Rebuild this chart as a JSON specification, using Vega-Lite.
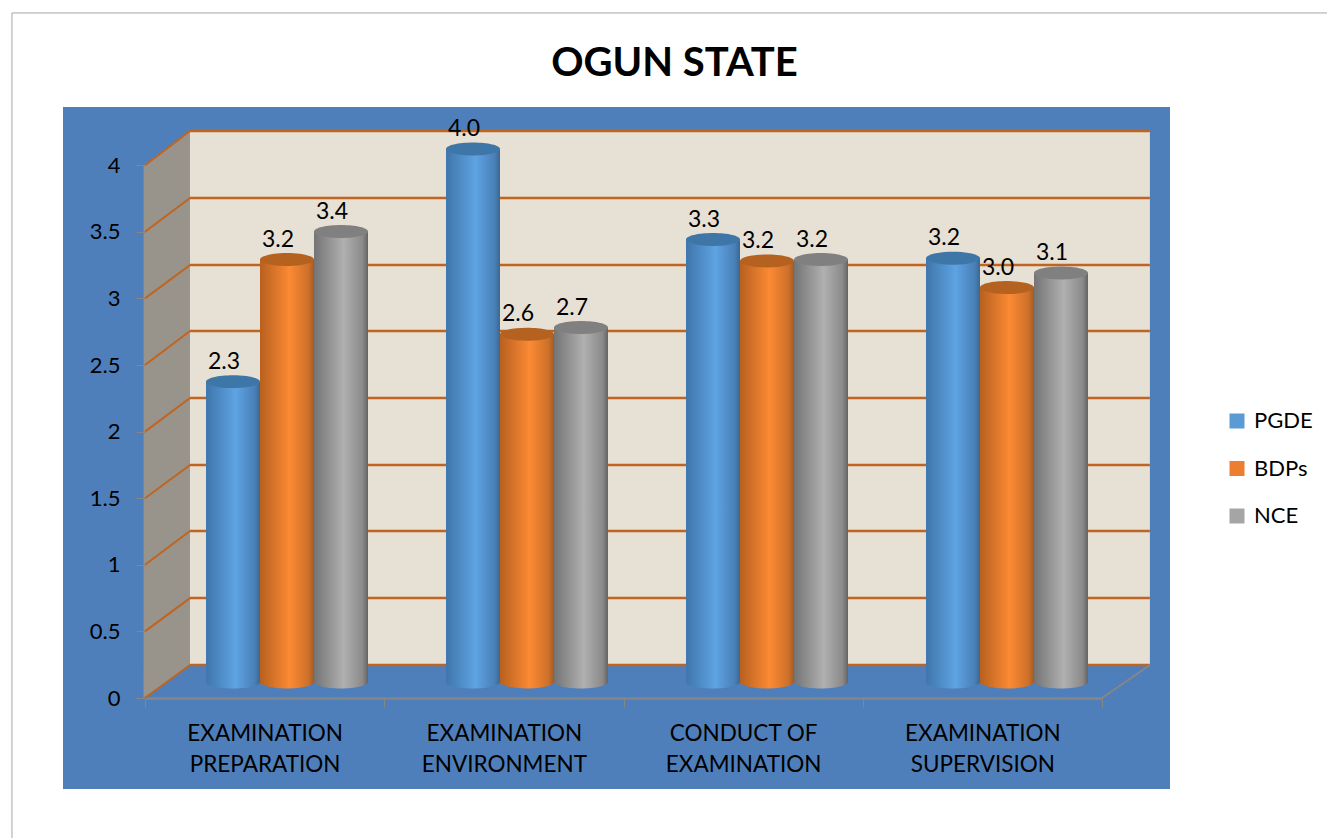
{
"$schema":"https://vega.github.io/schema/vega-lite/v6.json",
"width":1107,"height":682,
"padding":{"left":63,"top":107,"right":157,"bottom":49},
"autosize":{"type":"none"},
"background":"white",
"title":{"text":"OGUN STATE","font":"Lato","fontSize":40,"fontWeight":"bold","color":"#000000","anchor":"middle","dx":58,"offset":-72},
"config":{"view":{"fill":"#4f7fba","stroke":null},"axis":{"grid":false}},
"datasets":{
"bars":[
{"category":"EXAMINATION PREPARATION","series":"PGDE","value":2.254},
{"category":"EXAMINATION PREPARATION","series":"BDPs","value":3.17},
{"category":"EXAMINATION PREPARATION","series":"NCE","value":3.38},
{"category":"EXAMINATION ENVIRONMENT","series":"PGDE","value":4.0},
{"category":"EXAMINATION ENVIRONMENT","series":"BDPs","value":2.61},
{"category":"EXAMINATION ENVIRONMENT","series":"NCE","value":2.66},
{"category":"CONDUCT OF EXAMINATION","series":"PGDE","value":3.32},
{"category":"CONDUCT OF EXAMINATION","series":"BDPs","value":3.16},
{"category":"CONDUCT OF EXAMINATION","series":"NCE","value":3.17},
{"category":"EXAMINATION SUPERVISION","series":"PGDE","value":3.18},
{"category":"EXAMINATION SUPERVISION","series":"BDPs","value":2.96},
{"category":"EXAMINATION SUPERVISION","series":"NCE","value":3.07}
],
"levels":[
{"level":0,"back":0.248},{"level":0.5,"back":0.75},{"level":1,"back":1.254},{"level":1.5,"back":1.749},{"level":2,"back":2.252},{"level":2.5,"back":2.755},{"level":3,"back":3.251},{"level":3.5,"back":3.754},{"level":4,"back":4.257}
],
"sidewall":[{"depth":-0.006,"top":4.0,"bottom":0},{"depth":0.188,"top":4.257,"bottom":0.248}],
"categories":[{"category":"EXAMINATION PREPARATION"},{"category":"EXAMINATION ENVIRONMENT"},{"category":"CONDUCT OF EXAMINATION"},{"category":"EXAMINATION SUPERVISION"}],
"one":[{"k":1}]
},
"resolve":{"scale":{"x":"independent","y":"independent"},"axis":{"x":"independent","y":"independent"}},
"layer":[
{"data":{"name":"one"},"mark":{"type":"rule","color":"#a6a6a6","strokeWidth":1},
 "encoding":{"x":{"datum":-0.556,"type":"quantitative","scale":{"domain":[-0.3427,4.284],"nice":false,"zero":false},"axis":null},
 "y":{"datum":-1.06,"type":"quantitative","scale":{"domain":[-0.683,4.437],"nice":false,"zero":false},"axis":null},
 "y2":{"datum":5.143}}},
{"data":{"name":"one"},"mark":{"type":"rule","color":"#a6a6a6","strokeWidth":1},
 "encoding":{"x":{"datum":-0.556,"type":"quantitative","scale":{"domain":[-0.3427,4.284],"nice":false,"zero":false},"axis":null},
 "x2":{"datum":4.94},
 "y":{"datum":5.143,"type":"quantitative","scale":{"domain":[-0.683,4.437],"nice":false,"zero":false},"axis":null}}},
{"data":{"name":"sidewall"},"mark":{"type":"area","fill":"#98948c"},
 "encoding":{"x":{"field":"depth","type":"quantitative","scale":{"domain":[-0.3427,4.284],"nice":false,"zero":false},"axis":null},
 "y":{"field":"top","type":"quantitative","scale":{"domain":[-0.683,4.437],"nice":false,"zero":false},"axis":{"values":[0,0.5,1,1.5,2,2.5,3,3.5,4],"format":"~g","title":null,"offset":-82,"domain":false,"tickColor":"#868686","tickSize":9,"tickWidth":1,"labelFont":"Lato","labelFontSize":22,"labelColor":"#000000","labelPadding":16,"zindex":1}},
 "y2":{"field":"bottom"}}},
{"data":{"name":"one"},"mark":{"type":"rect","fill":"#e7e0d5"},
 "encoding":{"x":{"datum":0.188,"type":"quantitative","scale":{"domain":[-0.3427,4.284],"nice":false,"zero":false},"axis":null},
 "x2":{"datum":4.2},
 "y":{"datum":0.248,"type":"quantitative","scale":{"domain":[-0.683,4.437],"nice":false,"zero":false},"axis":null},
 "y2":{"datum":4.257}}},
{"data":{"name":"levels"},"mark":{"type":"rule","color":"#c0641f","strokeWidth":2.5},
 "encoding":{"x":{"datum":0.188,"type":"quantitative","scale":{"domain":[-0.3427,4.284],"nice":false,"zero":false},"axis":null},
 "x2":{"datum":4.2},
 "y":{"field":"back","type":"quantitative","scale":{"domain":[-0.683,4.437],"nice":false,"zero":false},"axis":null}}},
{"data":{"name":"levels"},"mark":{"type":"rule","color":"#c0641f","strokeWidth":2},
 "encoding":{"x":{"datum":0,"type":"quantitative","scale":{"domain":[-0.3427,4.284],"nice":false,"zero":false},"axis":null},
 "x2":{"datum":0.188},
 "y":{"field":"level","type":"quantitative","scale":{"domain":[-0.683,4.437],"nice":false,"zero":false},"axis":null},
 "y2":{"field":"back"}}},
{"data":{"name":"one"},"mark":{"type":"rule","color":"#868686","strokeWidth":2},
 "encoding":{"x":{"datum":4.0,"type":"quantitative","scale":{"domain":[-0.3427,4.284],"nice":false,"zero":false},"axis":null},
 "x2":{"datum":4.2},
 "y":{"datum":0,"type":"quantitative","scale":{"domain":[-0.683,4.437],"nice":false,"zero":false},"axis":null},
 "y2":{"datum":0.248}}},
{"data":{"name":"categories"},"mark":{"type":"rule","opacity":0},
 "encoding":{"x":{"field":"category","type":"nominal","sort":null,"scale":{"type":"band","domain":["EXAMINATION PREPARATION","EXAMINATION ENVIRONMENT","CONDUCT OF EXAMINATION","EXAMINATION SUPERVISION"],"range":[82,1039],"paddingInner":0,"paddingOuter":0},
 "axis":{"title":null,"orient":"bottom","offset":-91,"labelAngle":0,"tickBand":"extent","tickColor":"#868686","tickSize":9,"tickWidth":1,"domainColor":"#868686","domainWidth":2.5,"labelFont":"Lato","labelFontSize":22.5,"labelColor":"#000000","labelPadding":15,"labelLineHeight":31,"labelLimit":0,"labelExpr":"datum.label == 'CONDUCT OF EXAMINATION' ? ['CONDUCT OF','EXAMINATION'] : split(datum.label,' ')"}}}},
{"data":{"name":"bars"},"mark":{"type":"point","shape":"M-1,0C-1,-0.132,-0.552,-0.24,0,-0.24C0.552,-0.24,1,-0.132,1,0C1,0.132,0.552,0.24,0,0.24C-0.552,0.24,-1,0.132,-1,0Z","size":2916,"filled":true,"opacity":1},
 "encoding":{
 "x":{"field":"category","type":"nominal","sort":null,"scale":{"type":"band","domain":["EXAMINATION PREPARATION","EXAMINATION ENVIRONMENT","CONDUCT OF EXAMINATION","EXAMINATION SUPERVISION"],"range":[143,1025],"paddingInner":0.325,"paddingOuter":0},"axis":null},
 "xOffset":{"field":"series","type":"nominal","sort":null,"scale":{"type":"band","domain":["PGDE","BDPs","NCE"],"paddingInner":0,"paddingOuter":0}},
 "y":{"datum":0,"type":"quantitative","scale":{"domain":[-0.803,4.315],"nice":false,"zero":false},"axis":null},
 "fill":{"condition":[
  {"test":"datum.series==='PGDE'","value":{"gradient":"linear","x1":0,"x2":1,"y1":0,"y2":0,"stops":[{"offset":0,"color":"#3f76ab"},{"offset":0.55,"color":"#5ea3e2"},{"offset":0.9,"color":"#4a80b8"},{"offset":1,"color":"#3a6792"}]}},
  {"test":"datum.series==='BDPs'","value":{"gradient":"linear","x1":0,"x2":1,"y1":0,"y2":0,"stops":[{"offset":0,"color":"#b8601f"},{"offset":0.55,"color":"#fb8a35"},{"offset":0.9,"color":"#cc7029"},{"offset":1,"color":"#a45a22"}]}}],
  "value":{"gradient":"linear","x1":0,"x2":1,"y1":0,"y2":0,"stops":[{"offset":0,"color":"#747474"},{"offset":0.55,"color":"#b0b0b0"},{"offset":0.9,"color":"#8a8a8a"},{"offset":1,"color":"#646464"}]}}
 }},
{"data":{"name":"bars"},"mark":{"type":"bar"},
 "encoding":{
 "x":{"field":"category","type":"nominal","sort":null,"scale":{"type":"band","domain":["EXAMINATION PREPARATION","EXAMINATION ENVIRONMENT","CONDUCT OF EXAMINATION","EXAMINATION SUPERVISION"],"range":[143,1025],"paddingInner":0.325,"paddingOuter":0},"axis":null},
 "xOffset":{"field":"series","type":"nominal","sort":null,"scale":{"type":"band","domain":["PGDE","BDPs","NCE"],"paddingInner":0,"paddingOuter":0}},
 "y":{"field":"value","type":"quantitative","stack":null,"scale":{"domain":[-0.803,4.315],"nice":false,"zero":false},"axis":null},
 "color":{"field":"series","type":"nominal","sort":null,"scale":{"domain":["PGDE","BDPs","NCE"],"range":["#5b9bd5","#ed7d31","#a5a5a5"]},
  "legend":{"title":null,"orient":"none","legendX":1163,"legendY":303,"symbolType":"square","symbolSize":225,"symbolStrokeWidth":0,"labelFont":"Lato","labelFontSize":22,"labelColor":"#000000","labelOffset":6,"rowPadding":25.5}}
 }},
{"data":{"name":"bars"},"mark":{"type":"bar"},
 "encoding":{
 "x":{"field":"category","type":"nominal","sort":null,"scale":{"type":"band","domain":["EXAMINATION PREPARATION","EXAMINATION ENVIRONMENT","CONDUCT OF EXAMINATION","EXAMINATION SUPERVISION"],"range":[143,1025],"paddingInner":0.325,"paddingOuter":0},"axis":null},
 "xOffset":{"field":"series","type":"nominal","sort":null,"scale":{"type":"band","domain":["PGDE","BDPs","NCE"],"paddingInner":0,"paddingOuter":0}},
 "y":{"field":"value","type":"quantitative","stack":null,"scale":{"domain":[-0.803,4.315],"nice":false,"zero":false},"axis":null},
 "fill":{"condition":[
  {"test":"datum.series==='PGDE'","value":{"gradient":"linear","x1":0,"x2":1,"y1":0,"y2":0,"stops":[{"offset":0,"color":"#3f76ab"},{"offset":0.55,"color":"#5ea3e2"},{"offset":0.9,"color":"#4a80b8"},{"offset":1,"color":"#3a6792"}]}},
  {"test":"datum.series==='BDPs'","value":{"gradient":"linear","x1":0,"x2":1,"y1":0,"y2":0,"stops":[{"offset":0,"color":"#b8601f"},{"offset":0.55,"color":"#fb8a35"},{"offset":0.9,"color":"#cc7029"},{"offset":1,"color":"#a45a22"}]}}],
  "value":{"gradient":"linear","x1":0,"x2":1,"y1":0,"y2":0,"stops":[{"offset":0,"color":"#747474"},{"offset":0.55,"color":"#b0b0b0"},{"offset":0.9,"color":"#8a8a8a"},{"offset":1,"color":"#646464"}]}}
 }},
{"data":{"name":"bars"},"mark":{"type":"point","shape":"M-1,0C-1,-0.132,-0.552,-0.24,0,-0.24C0.552,-0.24,1,-0.132,1,0C1,0.132,0.552,0.24,0,0.24C-0.552,0.24,-1,0.132,-1,0Z","size":2916,"filled":true,"opacity":1},
 "encoding":{
 "x":{"field":"category","type":"nominal","sort":null,"scale":{"type":"band","domain":["EXAMINATION PREPARATION","EXAMINATION ENVIRONMENT","CONDUCT OF EXAMINATION","EXAMINATION SUPERVISION"],"range":[143,1025],"paddingInner":0.325,"paddingOuter":0},"axis":null},
 "xOffset":{"field":"series","type":"nominal","sort":null,"scale":{"type":"band","domain":["PGDE","BDPs","NCE"],"paddingInner":0,"paddingOuter":0}},
 "y":{"field":"value","type":"quantitative","scale":{"domain":[-0.803,4.315],"nice":false,"zero":false},"axis":null},
 "fill":{"field":"series","type":"nominal","sort":null,"scale":{"domain":["PGDE","BDPs","NCE"],"range":["#3f76a8","#b5611f","#808080"]},"legend":null}
 }},
{"data":{"name":"bars"},"mark":{"type":"text","font":"Lato","fontSize":23,"color":"#000000","dx":-9,"dy":-20,"baseline":"middle"},
 "encoding":{
 "x":{"field":"category","type":"nominal","sort":null,"scale":{"type":"band","domain":["EXAMINATION PREPARATION","EXAMINATION ENVIRONMENT","CONDUCT OF EXAMINATION","EXAMINATION SUPERVISION"],"range":[143,1025],"paddingInner":0.325,"paddingOuter":0},"axis":null},
 "xOffset":{"field":"series","type":"nominal","sort":null,"scale":{"type":"band","domain":["PGDE","BDPs","NCE"],"paddingInner":0,"paddingOuter":0}},
 "y":{"field":"value","type":"quantitative","stack":null,"scale":{"domain":[-0.803,4.315],"nice":false,"zero":false},"axis":null},
 "text":{"field":"value","type":"quantitative","format":".1f"}
 }}
]}
